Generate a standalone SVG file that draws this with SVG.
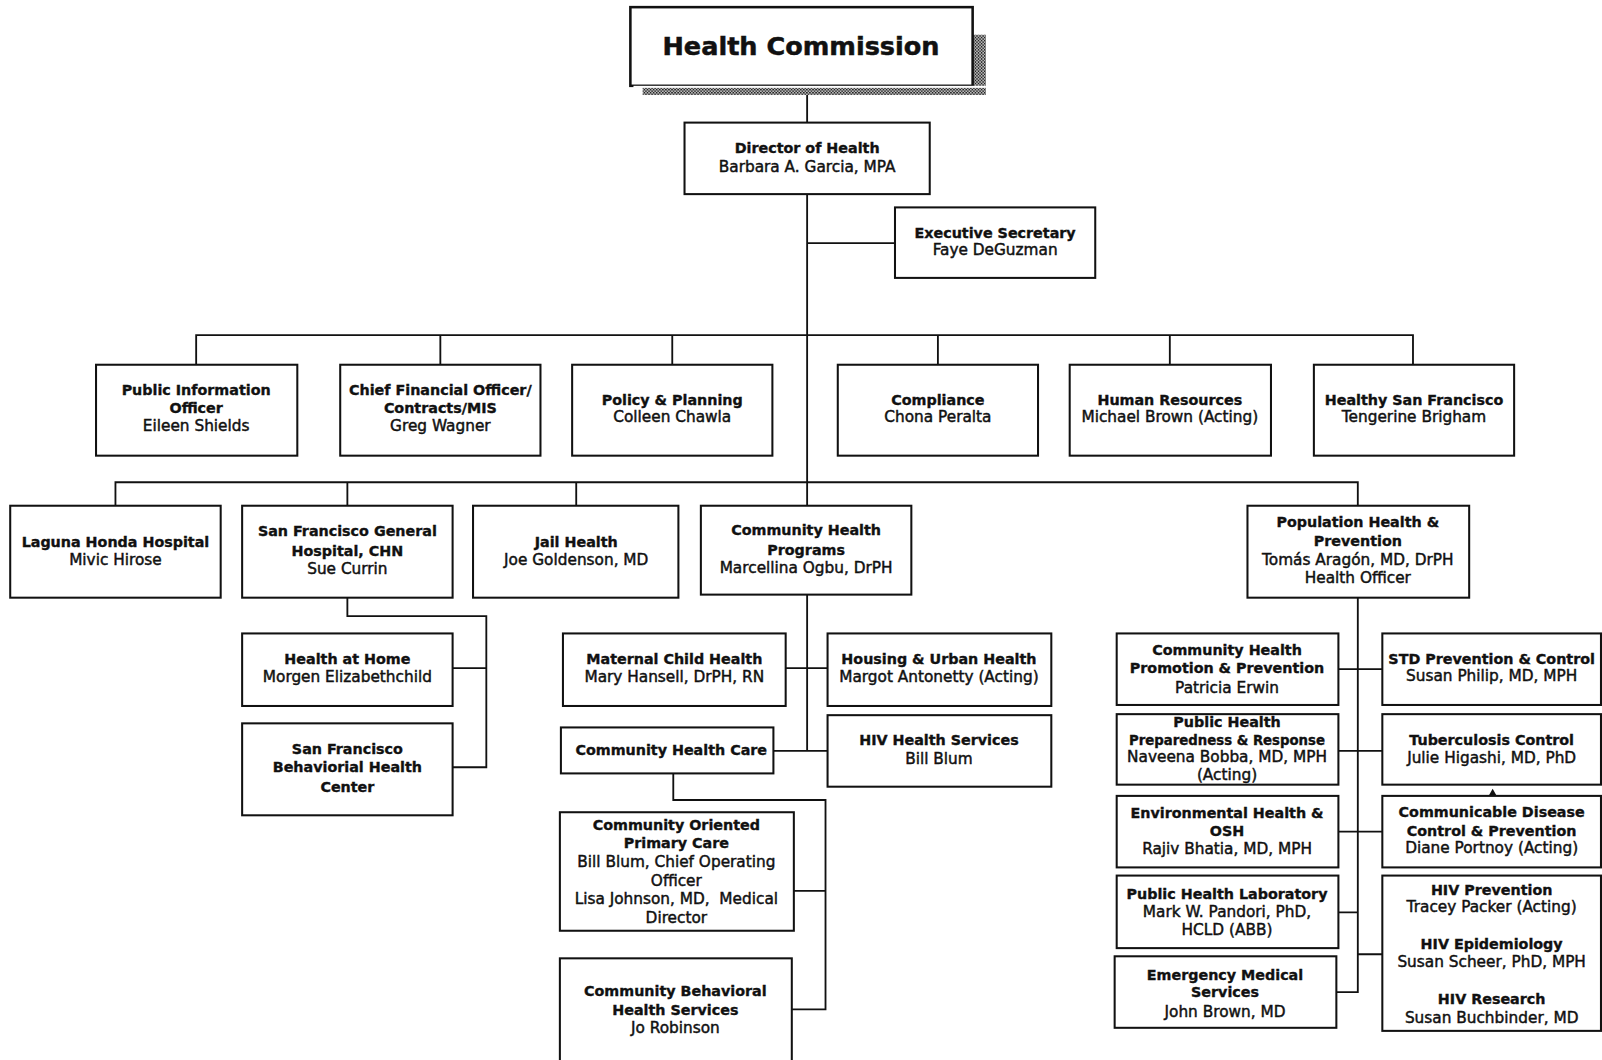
<svg xmlns="http://www.w3.org/2000/svg" width="1602" height="1060" viewBox="0 0 1602 1060">
<style>
.box{fill:#fff;stroke:#111;stroke-width:2}
.c{fill:none;stroke:#111;stroke-width:1.8}
text{text-anchor:middle;fill:#111;stroke:#111}
.t{font-family:"DejaVu Sans","Liberation Sans",sans-serif;font-weight:bold;font-size:14px;stroke-width:0.35}
.n{font-family:"DejaVu Sans","Liberation Sans",sans-serif;font-size:15px;stroke-width:0.45}
.hc{font-family:"DejaVu Sans","Liberation Sans",sans-serif;font-weight:bold;font-size:25px;stroke-width:0.5}
</style>
<defs>
<pattern id="stip" width="3" height="3" patternUnits="userSpaceOnUse">
<rect width="3" height="3" fill="#bbb"/>
<rect width="1.5" height="1.5" fill="#222"/>
<rect x="1.5" y="1.5" width="1.5" height="1.5" fill="#444"/>
</pattern>
</defs>
<rect width="1602" height="1060" fill="#fff"/>
<g transform="scale(1.02168)">
<g id="connectors">
<path class="c" d="M790,84V120M790,190V495M790,238H876"/>
<path class="c" d="M192,357V328H1383V357M431,328V357M658,328V357M918,328V357M1145,328V357"/>
<path class="c" d="M113,495V472H1329V495M340,472V495M564,472V495"/>
<path class="c" d="M340,585V603H476V751H443M443,654H476"/>
<path class="c" d="M790,582V735M769,654H810M757,735H810"/>
<path class="c" d="M659,757V783H808V988H775M777,872H808"/>
<path class="c" d="M1329,585V971H1308M1310,655H1353M1310,735H1353M1310,814H1353M1310,893H1329M1329,934H1353"/>
</g>
<g id="health-commission">
<rect x="629" y="34" width="336" height="59" fill="url(#stip)"/>
<rect x="617" y="7" width="335" height="77" class="box" style="stroke-width:2.5"/>
<rect x="620" y="84" width="345" height="2" fill="#fff"/>
<text class="hc" x="784" y="54">Health Commission</text>
</g>
<g id="director">
<rect x="670" y="120" width="240" height="70" class="box"/>
<text class="t" x="790" y="150">Director of Health</text>
<text class="n" x="790" y="168">Barbara A. Garcia, MPA</text>
</g>
<g id="exec-secretary">
<rect x="876" y="203" width="196" height="69" class="box"/>
<text class="t" x="974" y="233">Executive Secretary</text>
<text class="n" x="974" y="250">Faye DeGuzman</text>
</g>
<g id="public-info">
<rect x="94" y="357" width="197" height="89" class="box"/>
<text class="t" x="192" y="387">Public Information</text>
<text class="t" x="192" y="404">Officer</text>
<text class="n" x="192" y="422">Eileen Shields</text>
</g>
<g id="cfo">
<rect x="333" y="357" width="196" height="89" class="box"/>
<text class="t" x="431" y="387">Chief Financial Officer/</text>
<text class="t" x="431" y="404">Contracts/MIS</text>
<text class="n" x="431" y="422">Greg Wagner</text>
</g>
<g id="policy">
<rect x="560" y="357" width="196" height="89" class="box"/>
<text class="t" x="658" y="396">Policy &amp; Planning</text>
<text class="n" x="658" y="413">Colleen Chawla</text>
</g>
<g id="compliance">
<rect x="820" y="357" width="196" height="89" class="box"/>
<text class="t" x="918" y="396">Compliance</text>
<text class="n" x="918" y="413">Chona Peralta</text>
</g>
<g id="human-resources">
<rect x="1047" y="357" width="197" height="89" class="box"/>
<text class="t" x="1145" y="396">Human Resources</text>
<text class="n" x="1145" y="413">Michael Brown (Acting)</text>
</g>
<g id="healthy-sf">
<rect x="1286" y="357" width="196" height="89" class="box"/>
<text class="t" x="1384" y="396">Healthy San Francisco</text>
<text class="n" x="1384" y="413">Tengerine Brigham</text>
</g>
<g id="laguna-honda">
<rect x="10" y="495" width="206" height="90" class="box"/>
<text class="t" x="113" y="535">Laguna Honda Hospital</text>
<text class="n" x="113" y="553">Mivic Hirose</text>
</g>
<g id="sfgh">
<rect x="237" y="495" width="206" height="90" class="box"/>
<text class="t" x="340" y="525">San Francisco General</text>
<text class="t" x="340" y="544">Hospital, CHN</text>
<text class="n" x="340" y="562">Sue Currin</text>
</g>
<g id="jail-health">
<rect x="463" y="495" width="201" height="90" class="box"/>
<text class="t" x="564" y="535">Jail Health</text>
<text class="n" x="564" y="553">Joe Goldenson, MD</text>
</g>
<g id="community-health-programs">
<rect x="686" y="495" width="206" height="87" class="box"/>
<text class="t" x="789" y="524">Community Health</text>
<text class="t" x="789" y="543">Programs</text>
<text class="n" x="789" y="561">Marcellina Ogbu, DrPH</text>
</g>
<g id="population-health">
<rect x="1221" y="495" width="217" height="90" class="box"/>
<text class="t" x="1329" y="516">Population Health &amp;</text>
<text class="t" x="1329" y="534">Prevention</text>
<text class="n" x="1329" y="553">Tomás Aragón, MD, DrPH</text>
<text class="n" x="1329" y="571">Health Officer</text>
</g>
<g id="health-at-home">
<rect x="237" y="620" width="206" height="71" class="box"/>
<text class="t" x="340" y="650">Health at Home</text>
<text class="n" x="340" y="668">Morgen Elizabethchild</text>
</g>
<g id="sf-behavioral-health-center">
<rect x="237" y="708" width="206" height="90" class="box"/>
<text class="t" x="340" y="738">San Francisco</text>
<text class="t" x="340" y="756">Behaviorial Health</text>
<text class="t" x="340" y="775">Center</text>
</g>
<g id="maternal-child-health">
<rect x="551" y="620" width="218" height="71" class="box"/>
<text class="t" x="660" y="650">Maternal Child Health</text>
<text class="n" x="660" y="668">Mary Hansell, DrPH, RN</text>
</g>
<g id="housing-urban-health">
<rect x="810" y="620" width="219" height="71" class="box"/>
<text class="t" x="919" y="650">Housing &amp; Urban Health</text>
<text class="n" x="919" y="668">Margot Antonetty (Acting)</text>
</g>
<g id="community-health-care">
<rect x="549" y="712" width="208" height="45" class="box"/>
<text class="t" x="657" y="739">Community Health Care</text>
</g>
<g id="hiv-health-services">
<rect x="810" y="700" width="219" height="70" class="box"/>
<text class="t" x="919" y="729">HIV Health Services</text>
<text class="n" x="919" y="748">Bill Blum</text>
</g>
<g id="copc">
<rect x="548" y="795" width="229" height="116" class="box"/>
<text class="t" x="662" y="812">Community Oriented</text>
<text class="t" x="662" y="830">Primary Care</text>
<text class="n" x="662" y="849">Bill Blum, Chief Operating</text>
<text class="n" x="662" y="867">Officer</text>
<text class="n" x="662" y="885" xml:space="preserve">Lisa Johnson, MD,  Medical</text>
<text class="n" x="662" y="903">Director</text>
</g>
<g id="cbhs">
<rect x="548" y="938" width="227" height="112" class="box"/>
<text class="t" x="661" y="975">Community Behavioral</text>
<text class="t" x="661" y="993">Health Services</text>
<text class="n" x="661" y="1011">Jo Robinson</text>
</g>
<g id="chpp">
<rect x="1093" y="620" width="217" height="70" class="box"/>
<text class="t" x="1201" y="641">Community Health</text>
<text class="t" x="1201" y="659">Promotion &amp; Prevention</text>
<text class="n" x="1201" y="678">Patricia Erwin</text>
</g>
<g id="phpr">
<rect x="1093" y="699" width="217" height="69" class="box"/>
<text class="t" x="1201" y="712">Public Health</text>
<text class="t" x="1201" y="729" style="font-size:13px">Preparedness &amp; Response</text>
<text class="n" x="1201" y="746">Naveena Bobba, MD, MPH</text>
<text class="n" x="1201" y="763">(Acting)</text>
</g>
<g id="environmental-health">
<rect x="1093" y="779" width="217" height="70" class="box"/>
<text class="t" x="1201" y="801">Environmental Health &amp;</text>
<text class="t" x="1201" y="818">OSH</text>
<text class="n" x="1201" y="836">Rajiv Bhatia, MD, MPH</text>
</g>
<g id="public-health-lab">
<rect x="1093" y="857" width="217" height="71" class="box"/>
<text class="t" x="1201" y="880">Public Health Laboratory</text>
<text class="n" x="1201" y="898">Mark W. Pandori, PhD,</text>
<text class="n" x="1201" y="915">HCLD (ABB)</text>
</g>
<g id="ems">
<rect x="1091" y="936" width="217" height="70" class="box"/>
<text class="t" x="1199" y="959">Emergency Medical</text>
<text class="t" x="1199" y="976">Services</text>
<text class="n" x="1199" y="995">John Brown, MD</text>
</g>
<g id="std">
<rect x="1353" y="620" width="214" height="70" class="box"/>
<text class="t" x="1460" y="650">STD Prevention &amp; Control</text>
<text class="n" x="1460" y="667">Susan Philip, MD, MPH</text>
</g>
<g id="tb">
<rect x="1353" y="699" width="214" height="69" class="box"/>
<text class="t" x="1460" y="729">Tuberculosis Control</text>
<text class="n" x="1460" y="747">Julie Higashi, MD, PhD</text>
</g>
<g id="cdcp">
<rect x="1353" y="779" width="214" height="70" class="box"/>
<polygon points="1457,779 1465,779 1461,772" fill="#111"/>
<text class="t" x="1460" y="800">Communicable Disease</text>
<text class="t" x="1460" y="818">Control &amp; Prevention</text>
<text class="n" x="1460" y="835">Diane Portnoy (Acting)</text>
</g>
<g id="hiv">
<rect x="1353" y="857" width="214" height="152" class="box"/>
<text class="t" x="1460" y="876">HIV Prevention</text>
<text class="n" x="1460" y="893">Tracey Packer (Acting)</text>
<text class="t" x="1460" y="929">HIV Epidemiology</text>
<text class="n" x="1460" y="946">Susan Scheer, PhD, MPH</text>
<text class="t" x="1460" y="983">HIV Research</text>
<text class="n" x="1460" y="1001">Susan Buchbinder, MD</text>
</g>
</g>
</svg>
